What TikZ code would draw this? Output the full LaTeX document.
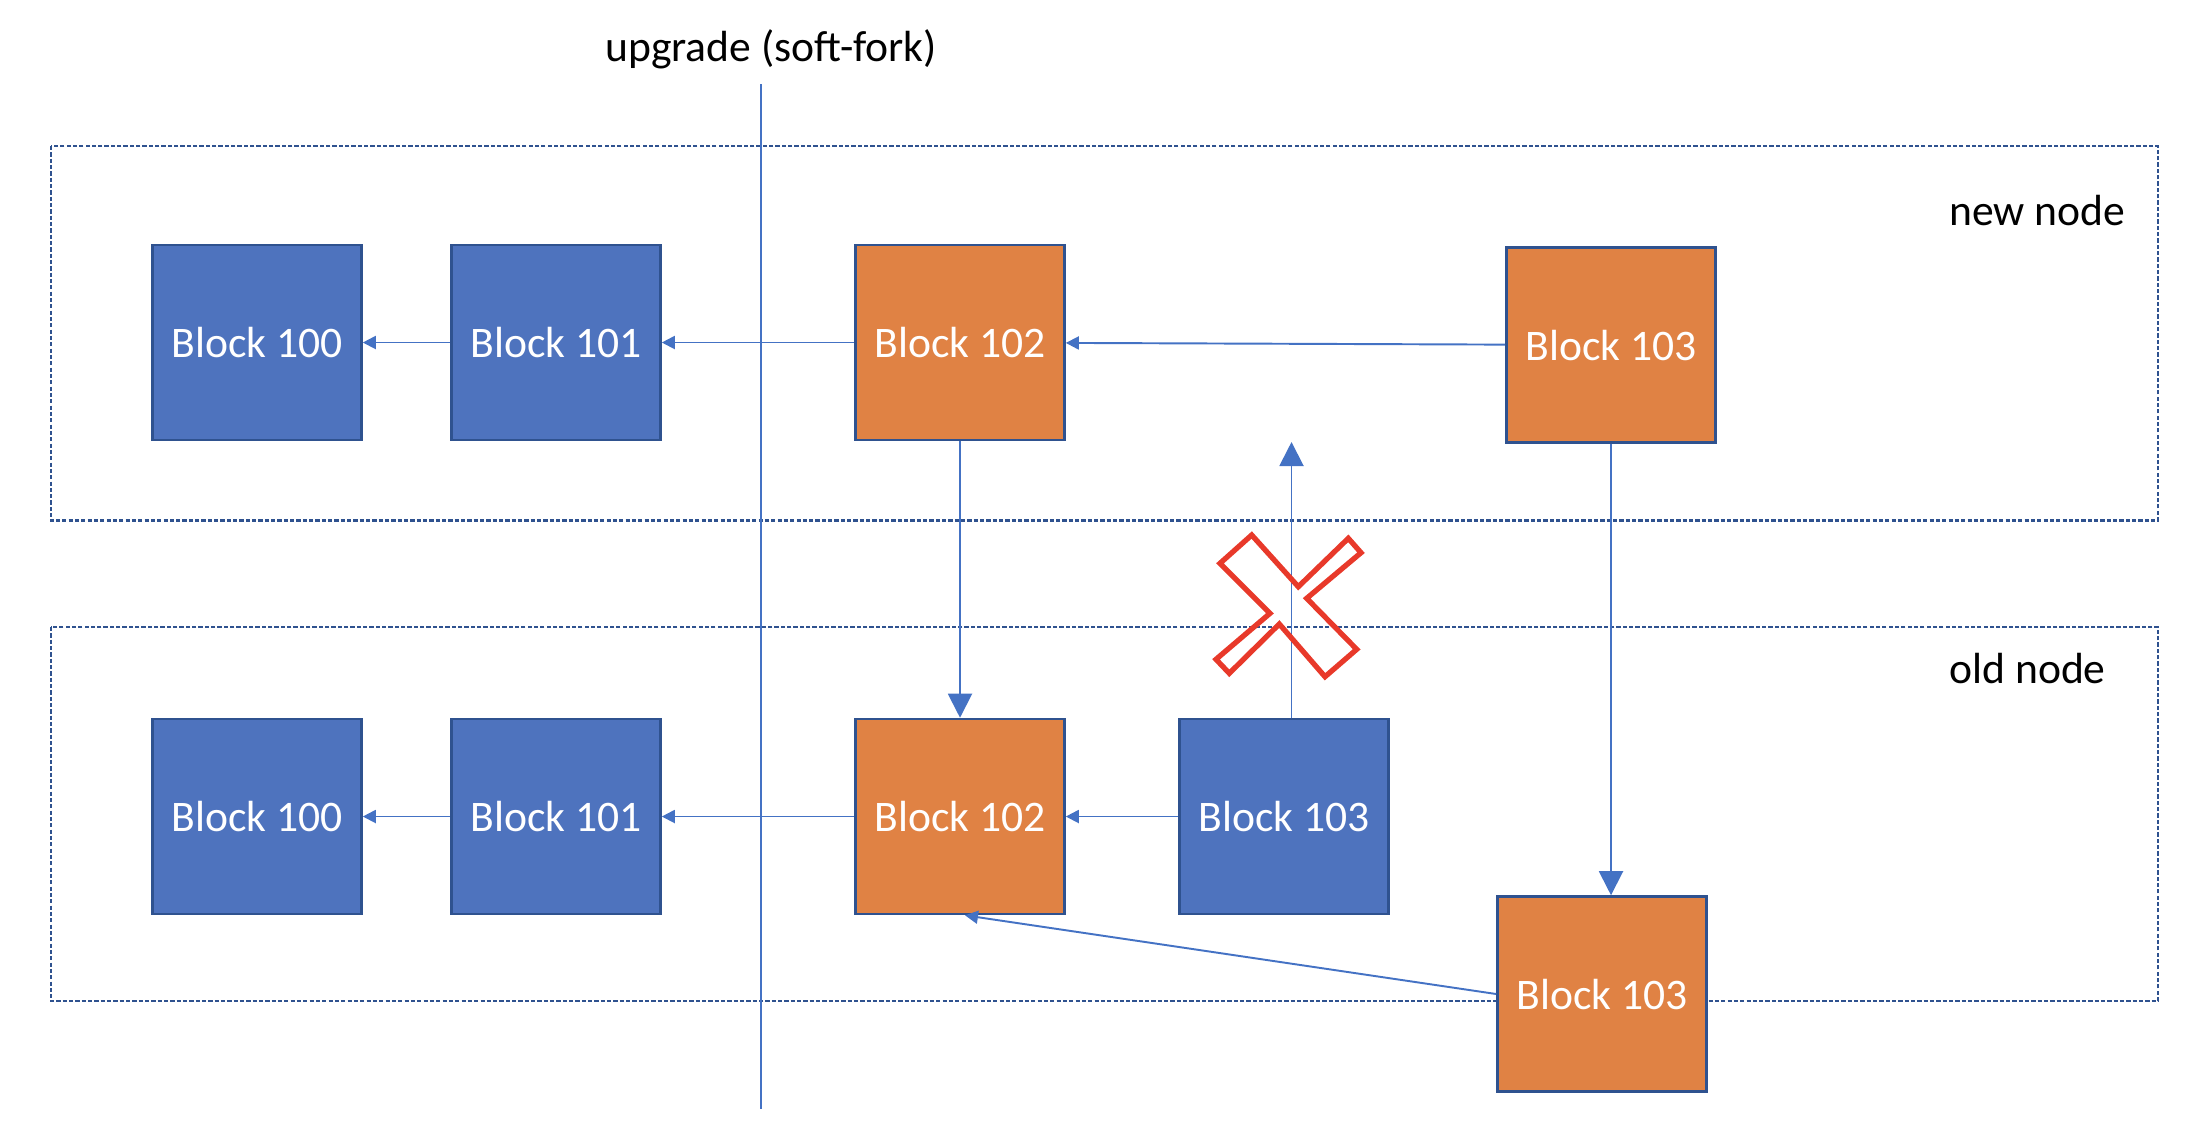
\documentclass[tikz,border=0pt]{standalone}
\usepackage{fontspec}
\setmainfont{Carlito}
\usetikzlibrary{arrows.meta}
\definecolor{blockblue}{HTML}{4E73BE}
\definecolor{blockorange}{HTML}{E08244}
\definecolor{edgeblue}{HTML}{2F528F}
\definecolor{linkblue}{HTML}{4472C4}
\definecolor{crossred}{HTML}{E8392A}

\begin{document}
\begin{tikzpicture}
  [x=0.01cm,y=-0.01cm,font=\fontsize{12.4}{15}\selectfont,
   blk/.style={rectangle,draw=edgeblue,line width=0.7pt,text=white,
     minimum width=2.09cm,minimum height=1.95cm,inner sep=0pt},
   blueblk/.style={blk,fill=blockblue},
   orangeblk/.style={blk,fill=blockorange},
   link/.style={draw=linkblue,line width=0.55pt,-{Triangle[length=0.13cm,width=0.13cm]}},
   biglink/.style={link,-{Triangle[length=0.24cm,width=0.24cm]}},
   area/.style={draw=edgeblue,line width=0.6pt,dash pattern=on 1.2pt off 0.6pt}]
  \useasboundingbox (0,0) rectangle (2206,1132);

  \draw[area] (50.6,146) rectangle (2158,520.5);
  \draw[area] (50.6,627) rectangle (2158,1001);
  \draw[linkblue,line width=0.55pt] (761,84) -- (761,1109);

  \node (title) at (771,49) {upgrade (soft-fork)};
  \node[anchor=west] (newlbl) at (1937,210) {new node};
  \node[anchor=west] (oldlbl) at (1937,668) {old node};

  \node[blueblk] (n100) at (257,342.5) {Block 100};
  \node[blueblk] (n101) at (556,342.5) {Block 101};
  \node[orangeblk] (n102) at (960,342.5) {Block 102};
  \node[orangeblk] (n103) at (1611,345) {Block 103};

  \node[blueblk] (o100) at (257,816.5) {Block 100};
  \node[blueblk] (o101) at (556,816.5) {Block 101};
  \node[orangeblk] (o102) at (960,816.5) {Block 102};
  \node[blueblk] (o103) at (1284,816.5) {Block 103};
  \node[orangeblk] (o103b) at (1602,994) {Block 103};

  \coordinate (rej) at (1291.5,442);

  \draw[link] (n101) -- (n100);
  \draw[link] (n102) -- (n101);
  \draw[link] (n103) -- (n102);

  \draw[link] (o101) -- (o100);
  \draw[link] (o102) -- (o101);
  \draw[link] (o103) -- (o102);
  \draw[link] (o103b.west) -- ([xshift=0.05cm]o102.south);

  \draw[biglink] (n102) -- (o102);
  \draw[biglink] (n103.south) -- (n103.south |- o103b.north);
  \draw[biglink] (rej |- o103.north) -- (rej);

  \draw[crossred,line width=1.5pt,line join=miter]
    (1251.7,535) -- (1220,563.3) -- (1270,613.3) -- (1216,659.3)
    -- (1229.3,673.3) -- (1279.3,624) -- (1325,676.7) -- (1356.7,649.3)
    -- (1306.7,598.3) -- (1361,552.7) -- (1348.3,538.3) -- (1298.3,586.7)
    -- cycle;
\end{tikzpicture}
\end{document}
